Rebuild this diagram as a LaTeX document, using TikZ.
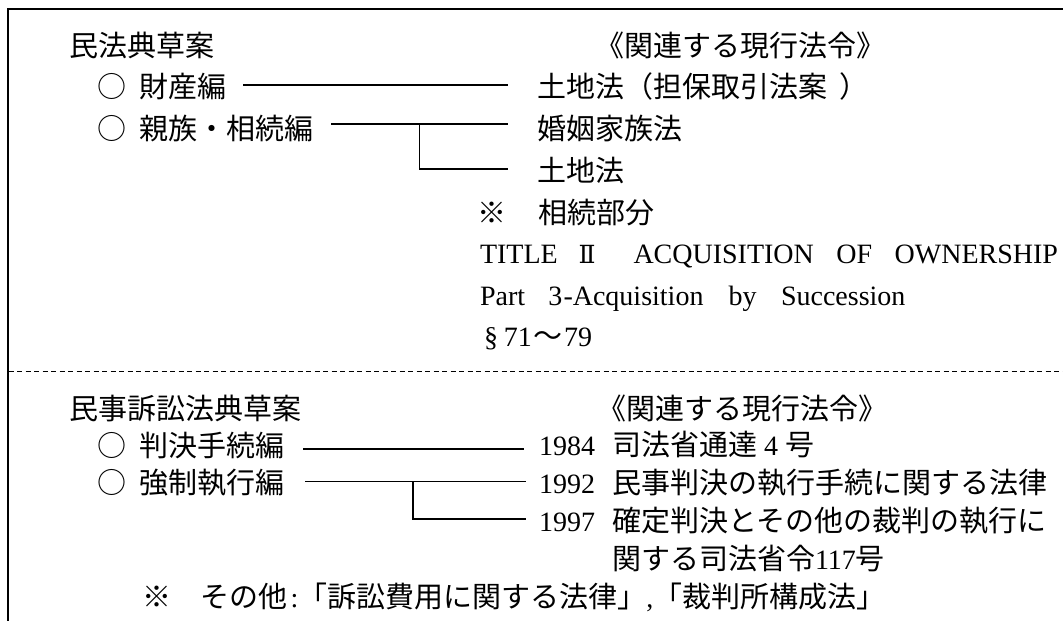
\documentclass[tikz,border=0pt]{standalone}
\usepackage{fontspec}
\setmainfont{Liberation Serif}
\newfontfamily\jp{Noto Sans CJK JP}
\newfontfamily\dvs{DejaVu Serif}
\newcommand\latn[1]{{\rmfamily\fontsize{28}{28}\selectfont #1}}
\begin{document}
\begin{tikzpicture}[x=1pt,y=-1pt,
  jt/.style={anchor=base west,inner sep=0pt,outer sep=0pt,font=\jp\fontsize{29}{29}\selectfont},
  lt/.style={anchor=base west,inner sep=0pt,outer sep=0pt,font=\fontsize{28}{28}\selectfont},
  conn/.style={line width=1.4pt},
  frame/.style={line width=2pt},
  sep/.style={line width=0.9pt,dash pattern=on 5pt off 3.5pt}]
\useasboundingbox (0,0) rectangle (1063,621);
% frame and separator
\draw[frame] (7.5,621) -- (7.5,8.5) -- (1063,8.5);
\draw[sep] (8.5,371) -- (1063,371);
% ---------- section 1 ----------
\node[jt] (h1) at (69,56) {民法典草案};
\node[jt] (r0) at (595,56) {《関連する現行法令》};
\node[jt] (b1) at (97,97) {○};
\node[jt] (s1) at (139.5,97) {財産編};
\node[jt] (b2) at (97,139) {○};
\node[jt] (s2) at (139.5,139) {親族・相続編};
\node[jt] (r1) at (537.5,97) {土地法（担保取引法案\hspace{12pt}）};
\node[jt] (r2) at (537.5,139) {婚姻家族法};
\node[jt] (r3) at (537.5,181) {土地法};
\node[jt] (n1) at (477.5,223) {※};
\node[jt] (r4) at (538.5,223) {相続部分};
\node[lt] (t1) at (480,263) {TITLE};
\node[anchor=base,inner sep=0pt,font=\dvs\fontsize{25}{25}\selectfont] (t2) at (587,263) {Ⅱ};
\node[lt] (t3) at (633.5,263) {ACQUISITION\hspace{22.5pt}OF\hspace{22.5pt}OWNERSHIP};
\node[lt] (p1) at (480,305) {Part\hspace{23.4pt}3\kern1pt-Acquisition\hspace{25pt}by\hspace{24.5pt}Succession};
\node[lt] (q1) at (484,346) {§\hspace{6pt}71\hspace{1.5pt}{\jp\fontsize{29}{29}\selectfont ～}\hspace{1.5pt}79};
% connectors section 1
\coordinate (a1) at (243,85);
\coordinate (a2) at (508,85);
\coordinate (a3) at (331,124);
\coordinate (a4) at (508,124);
\coordinate (a5) at (419.5,124);
\coordinate (a6) at (508,169);
\draw[conn] (a1) -- (a2);
\draw[conn] (a3) -- (a4);
\draw[conn] (a5) |- (a6);
% ---------- section 2 ----------
\node[jt] (h2) at (69,419) {民事訴訟法典草案};
\node[jt] (r5) at (597,419) {《関連する現行法令》};
\node[jt] (b3) at (97,456) {○};
\node[jt] (s3) at (139.5,456) {判決手続編};
\node[jt] (b4) at (97,493) {○};
\node[jt] (s4) at (139.5,493) {強制執行編};
\node[lt] (y1) at (539,455) {1984};
\node[jt] (j1) at (612,455) {司法省通達\hspace{7pt}\latn{4}\hspace{7pt}号};
\node[lt] (y2) at (539,493) {1992};
\node[jt] (j2) at (612,493) {民事判決の執行手続に関する法律};
\node[lt] (y3) at (539,531) {1997};
\node[jt] (j3) at (612,531) {確定判決とその他の裁判の執行に};
\node[jt] (j4) at (612,569) {関する司法省令\latn{117}号};
\node[jt] (n2) at (142,607) {※};
\node[jt] (j5) at (200.5,607) {その他\hspace{3pt}\latn{:}「訴訟費用に関する法律」\latn{,}「裁判所構成法」};
% connectors section 2
\coordinate (d1) at (303,449);
\coordinate (d2) at (524,449);
\coordinate (d3) at (305,481.5);
\coordinate (d4) at (525.5,481.5);
\coordinate (d5) at (413,481.5);
\coordinate (d6) at (525.5,519);
\draw[conn] (d1) -- (d2);
\draw[conn] (d3) -- (d4);
\draw[conn] (d5) |- (d6);
\end{tikzpicture}
\end{document}
